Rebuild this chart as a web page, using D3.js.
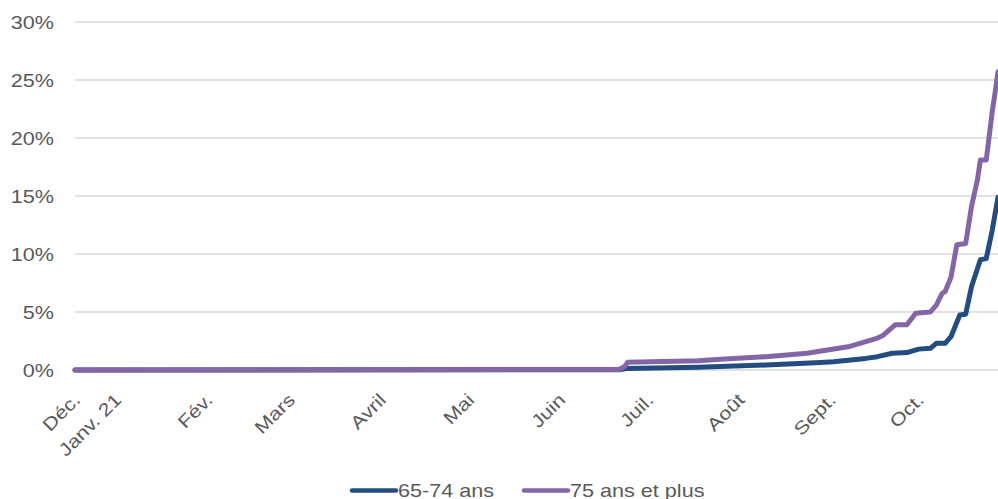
<!DOCTYPE html>
<html><head><meta charset="utf-8">
<script src="https://cdn.jsdelivr.net/npm/d3@7"></script>
<style>
html,body{margin:0;padding:0;background:#fff;}
svg{display:block;font-family:"Liberation Sans",Arial,sans-serif;}
</style></head>
<body>
<svg id="chart" width="998" height="499"></svg>
<script>
const seriesNames = ["65-74 ans", "75 ans et plus"];
const seriesColors = ["#234c7f", "#8466a6"];

const datesBlue = ["2020-12-17","2021-06-20","2021-06-23","2021-07-17","2021-08-09","2021-08-26","2021-09-01","2021-09-12","2021-09-16","2021-09-21","2021-09-26","2021-09-30","2021-10-04","2021-10-06","2021-10-09","2021-10-11","2021-10-14","2021-10-16","2021-10-18","2021-10-21","2021-10-23","2021-10-25","2021-10-27"];
const valuesBlue = [0,0.02,0.14,0.23,0.43,0.63,0.72,1.0,1.15,1.44,1.5,1.8,1.87,2.3,2.3,2.87,4.74,4.8,7.2,9.5,9.6,12.0,14.9];

const datesPurple = ["2020-12-17","2021-06-20","2021-06-22","2021-06-23","2021-07-17","2021-07-26","2021-08-09","2021-08-23","2021-09-06","2021-09-14","2021-09-16","2021-09-18","2021-09-22","2021-09-26","2021-09-29","2021-10-04","2021-10-06","2021-10-08","2021-10-09","2021-10-11","2021-10-13","2021-10-16","2021-10-18","2021-10-20","2021-10-21","2021-10-23","2021-10-25","2021-10-26","2021-10-27"];
const valuesPurple = [0,0.05,0.3,0.66,0.8,0.95,1.15,1.44,2.0,2.6,2.75,3.0,3.9,3.9,4.9,5.0,5.6,6.6,6.75,8.0,10.8,10.9,14.1,16.4,18.1,18.1,22.2,23.9,25.7];

const tickDates = ["2020-12-18","2021-01-01","2021-02-01","2021-03-01","2021-04-01","2021-05-01","2021-06-01","2021-07-01","2021-08-01","2021-09-01","2021-10-01"];
const tickLabels = ["Déc.","Janv. 21","Fév.","Mars","Avril","Mai","Juin","Juil.","Août","Sept.","Oct."];
const yTicks = [0,5,10,15,20,25,30];

const parse = d3.timeParse("%Y-%m-%d");
const svg = d3.select("#chart");
const FS = "18px", SX = 1.2, TXT = "#595959";

const x = d3.scaleTime()
  .domain([parse("2020-12-17"), parse("2021-10-27")])
  .range([75, 998]);
const y = d3.scaleLinear().domain([0,30]).range([370, 22]);

// gridlines
svg.append("g").selectAll("line").data(yTicks).join("line")
  .attr("x1", 75).attr("x2", 998)
  .attr("y1", d=>y(d)).attr("y2", d=>y(d))
  .attr("stroke", "#d9d9d9").attr("stroke-width", 1.3);

// y axis
const yAxis = d3.axisLeft(y).tickValues(yTicks).tickFormat(d=>d+"%").tickSize(0).tickPadding(0);
const gy = svg.append("g").attr("transform","translate(54,0)").call(yAxis);
gy.select(".domain").remove();
gy.selectAll("text").attr("fill",TXT).attr("font-size",FS)
  .attr("font-family","'Liberation Sans',Arial,sans-serif")
  .attr("x",0).attr("dy","0.35em")
  .attr("transform",`scale(${SX},1)`);

// x axis labels
const xAxis = d3.axisBottom(x).tickValues(tickDates.map(parse))
  .tickFormat((d,i)=>tickLabels[i]).tickSize(0).tickPadding(0);
const gx = svg.append("g").attr("transform","translate(0,0)").call(xAxis);
gx.select(".domain").remove();
gx.selectAll("text")
  .attr("fill",TXT).attr("font-size",FS)
  .attr("font-family","'Liberation Sans',Arial,sans-serif")
  .attr("text-anchor","end").attr("x",0).attr("y",0).attr("dy",0)
  .attr("transform",`translate(3,401) rotate(-45) scale(${SX},1)`);

const line = d3.line().x(d=>x(d[0])).y(d=>y(d[1]));
const blueData = datesBlue.map((d,i)=>[parse(d), valuesBlue[i]]);
const purpleData = datesPurple.map((d,i)=>[parse(d), valuesPurple[i]]);

svg.append("path").datum(blueData).attr("d", line)
  .attr("fill","none").attr("stroke",seriesColors[0]).attr("stroke-width",5)
  .attr("stroke-linejoin","round").attr("stroke-linecap","round");
svg.append("path").datum(purpleData).attr("d", line)
  .attr("fill","none").attr("stroke",seriesColors[1]).attr("stroke-width",5)
  .attr("stroke-linejoin","round").attr("stroke-linecap","round");

// legend
const legendX = [350, 522];
const lg = svg.append("g");
seriesNames.forEach((name,i)=>{
  lg.append("line").attr("x1",legendX[i]+2).attr("x2",legendX[i]+46)
    .attr("y1",490.5).attr("y2",490.5)
    .attr("stroke",seriesColors[i]).attr("stroke-width",4.5).attr("stroke-linecap","round");
  lg.append("text").attr("transform",`translate(${legendX[i]+48},496.5) scale(${SX},1)`)
    .attr("fill",TXT).attr("font-size",FS).text(name);
});
</script>
</body></html>
